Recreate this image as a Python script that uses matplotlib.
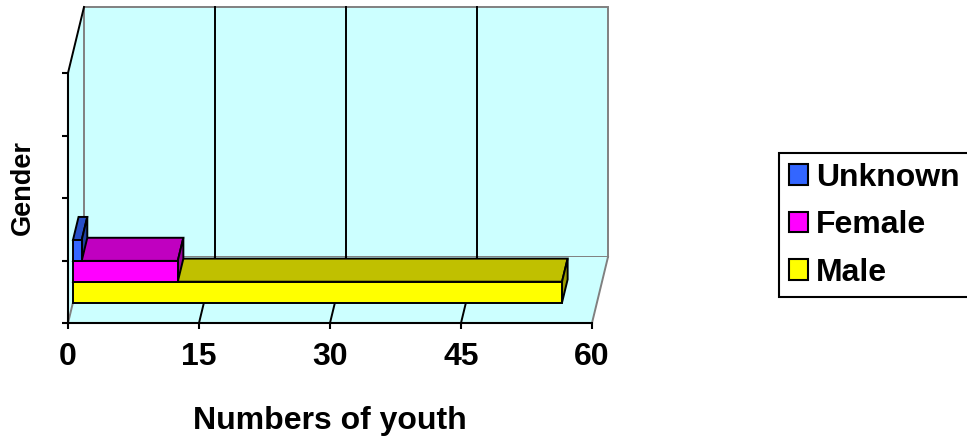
import matplotlib.pyplot as plt
from matplotlib.patches import Polygon, Patch

plt.rcParams['font.family'] = ['Liberation Sans', 'DejaVu Sans']
plt.rcParams['font.weight'] = 'bold'

# Data
series = ["Male", "Female", "Unknown"]
counts = [56, 12, 1]
x_ticks = [0, 15, 30, 45, 60]
n_levels = 4  # category slots on the vertical axis

front_colors = {"Male": "#FFFF00", "Female": "#FF00FF", "Unknown": "#3366FF"}
top_colors = {"Male": "#C0C000", "Female": "#C000C0", "Unknown": "#2850C8"}
side_colors = {"Male": "#999900", "Female": "#990099", "Unknown": "#1F3FA0"}

wall_color = "#CCFFFF"
edge_gray = "#808080"

# oblique projection: full depth shifts right/up by these data offsets
DX = 16 * 60 / 524
DY = 66 * 4 / 250


def proj(v, h, z):
    return (v + z * DX, h + z * DY)


def face(ax, pts, fc, ec="black", lw=1.4, z=2):
    ax.add_patch(Polygon([proj(*p) for p in pts], closed=True, facecolor=fc,
                         edgecolor=ec, linewidth=lw, clip_on=False, zorder=z,
                         joinstyle="miter"))


fig = plt.figure(figsize=(9.67, 4.37), dpi=100)
ax = fig.add_axes([68 / 967, (437 - 323) / 437, 524 / 967, 250 / 437])
ax.set_xlim(0, 60)
ax.set_ylim(0, n_levels)
ax.patch.set_visible(False)

xmax = x_ticks[-1]

# walls and floor
face(ax, [(0, 0, 0), (0, n_levels, 0), (0, n_levels, 1), (0, 0, 1)], wall_color, ec="none", z=0)
face(ax, [(0, 0, 1), (xmax, 0, 1), (xmax, n_levels, 1), (0, n_levels, 1)], wall_color, ec=edge_gray, lw=1.4, z=0)
face(ax, [(0, 0, 0), (xmax, 0, 0), (xmax, 0, 1), (0, 0, 1)], wall_color, ec="none", z=0)

# wall / floor edges
for a, b, c in [((0, 0, 0), (0, 0, 1), edge_gray),
                ((xmax, 0, 0), (xmax, 0, 1), edge_gray),
                ((0, n_levels, 0), (0, n_levels, 1), "black")]:
    p, q = proj(*a), proj(*b)
    ax.plot([p[0], q[0]], [p[1], q[1]], color=c, lw=1.4, clip_on=False, zorder=1)

# gridlines on back wall and floor
for v in x_ticks[1:-1]:
    p, q = proj(v, 0, 1), proj(v, n_levels, 1)
    ax.plot([p[0], q[0]], [p[1], q[1]], color="black", lw=1.4, clip_on=False, zorder=1)
    p, q = proj(v, 0, 0), proj(v, 0, 1)
    ax.plot([p[0], q[0]], [p[1], q[1]], color="black", lw=1.4, clip_on=False, zorder=1)

# 3-D bars, stacked in the first category slot
z0, z1 = 0.31, 0.66
band = 1.0 / len(series)
for i, (name, val) in enumerate(zip(series, counts)):
    h0, h1 = i * band, (i + 1) * band
    zo = 3 + i
    face(ax, [(0, h1, z0), (val, h1, z0), (val, h1, z1), (0, h1, z1)], top_colors[name], z=zo)
    face(ax, [(val, h0, z0), (val, h0, z1), (val, h1, z1), (val, h1, z0)], side_colors[name], z=zo)
    face(ax, [(0, h0, z0), (val, h0, z0), (val, h1, z0), (0, h1, z0)], front_colors[name], z=zo)

# axes styling
for s in ["top", "right"]:
    ax.spines[s].set_visible(False)
for s in ["left", "bottom"]:
    ax.spines[s].set_linewidth(1.5)
    ax.spines[s].set_zorder(10)
ax.set_xticks(x_ticks)
ax.set_xticklabels([str(t) for t in x_ticks], fontsize=23, fontweight="bold")
ax.set_yticks(range(n_levels + 1))
ax.set_yticklabels([])
ax.tick_params(axis="both", direction="out", length=4.5, width=1.5, color="black")
ax.tick_params(axis="x", pad=9)

fig.text(330 / 967, (437 - 429) / 437, "Numbers of youth", ha="center", va="baseline",
         fontsize=23, fontweight="bold")
fig.text(23 / 967, (437 - 188) / 437, "Gender", ha="center", va="center", rotation=90,
         fontsize=19.5, fontweight="bold")

handles = [Patch(facecolor=front_colors[n], edgecolor="black", linewidth=1.5)
           for n in series[::-1]]
leg = fig.legend(handles, series[::-1], loc="upper left",
                 bbox_to_anchor=(779 / 967, (437 - 153) / 437),
                 fancybox=False, framealpha=1, edgecolor="black",
                 prop={"size": 23, "weight": "bold"},
                 handlelength=0.62, handleheight=0.62, handletextpad=0.25,
                 labelspacing=0.55, borderpad=0.3, borderaxespad=0)
leg.get_frame().set_linewidth(1.5)

fig.savefig("out.png", dpi=100)
